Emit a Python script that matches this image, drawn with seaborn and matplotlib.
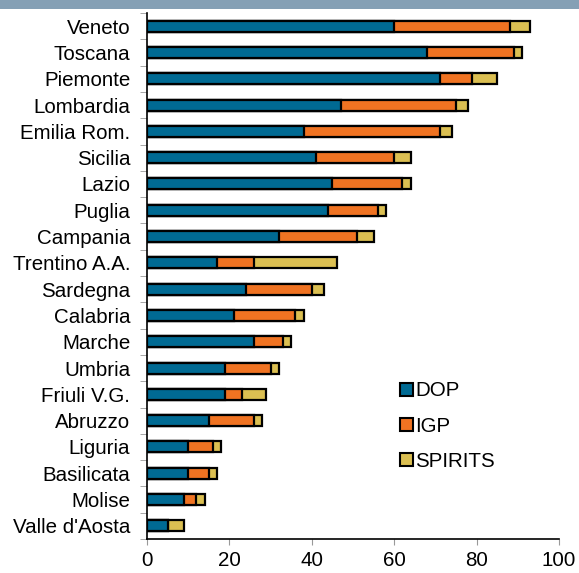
import matplotlib
matplotlib.use('Agg')
import matplotlib.pyplot as plt
import numpy as np
import pandas as pd
import seaborn as sns
from matplotlib.patches import Patch, Rectangle
from matplotlib.ticker import FixedLocator, NullFormatter

regions = ['Veneto', 'Toscana', 'Piemonte', 'Lombardia', 'Emilia Rom.', 'Sicilia',
           'Lazio', 'Puglia', 'Campania', 'Trentino A.A.', 'Sardegna', 'Calabria',
           'Marche', 'Umbria', 'Friuli V.G.', 'Abruzzo', 'Liguria', 'Basilicata',
           'Molise', "Valle d'Aosta"]
dop = [60, 68, 71, 47, 38, 41, 45, 44, 32, 17, 24, 21, 26, 19, 19, 15, 10, 10, 9, 5]
igp = [28, 21, 8, 28, 33, 19, 17, 12, 19, 9, 16, 15, 7, 11, 4, 11, 6, 5, 3, 0]
spirits = [5, 2, 6, 3, 3, 4, 2, 2, 4, 20, 3, 2, 2, 2, 6, 2, 2, 2, 2, 4]

c_dop = '#006a93'
c_igp = '#f07322'
c_spi = '#dbbf52'

df = pd.DataFrame({'regione': regions, 'DOP': dop, 'IGP': igp, 'SPIRITS': spirits})
df['c_igp'] = df['DOP'] + df['IGP']
df['c_tot'] = df['c_igp'] + df['SPIRITS']

plt.rcParams['font.family'] = ['Liberation Sans', 'DejaVu Sans']
fig = plt.figure(figsize=(5.79, 5.73), dpi=100)
ax = fig.add_axes([147 / 579, 1 - 539 / 573, (559 - 147) / 579, (539 - 13) / 573])

# stacked bars drawn back to front
for col, color in [('c_tot', c_spi), ('c_igp', c_igp), ('DOP', c_dop)]:
    sns.barplot(data=df, x=col, y='regione', orient='h', color=color, width=0.42,
                edgecolor='black', linewidth=1.6, saturation=1, ax=ax)

ax.set_xlim(0, 100)
ax.set_ylim(len(regions) - 0.5, -0.5)
ax.set_xticks(np.arange(0, 101, 20))
ax.set_xlabel('')
ax.set_ylabel('')
ax.tick_params(axis='x', labelsize=14.8, length=4, color='#999999', pad=5)
ax.tick_params(axis='y', which='major', labelsize=14.8, length=0, pad=12)
ax.yaxis.set_minor_locator(FixedLocator(np.arange(-0.5, len(regions), 1)))
ax.yaxis.set_minor_formatter(NullFormatter())
ax.tick_params(axis='y', which='minor', length=5, color='#999999')
for s in ['top', 'right']:
    ax.spines[s].set_visible(False)
for s in ['left', 'bottom']:
    ax.spines[s].set_color('black')
    ax.spines[s].set_linewidth(1.2)

handles = [Patch(facecolor=c, edgecolor='black', linewidth=1.5) for c in [c_dop, c_igp, c_spi]]
fig.legend(handles, ['DOP', 'IGP', 'SPIRITS'], loc='upper left',
           bbox_to_anchor=(390 / 579, 1 - 371 / 573), frameon=False, fontsize=14.8,
           handlelength=0.6, handleheight=0.6, handletextpad=0.12, labelspacing=0.8,
           borderpad=0)

# banner strip at the top
fig.patches.append(Rectangle((0, 1 - 9 / 573), 1, 9 / 573, transform=fig.transFigure,
                             facecolor='#85a0b5', edgecolor='none', zorder=0))

fig.savefig('out.png', dpi=100)
